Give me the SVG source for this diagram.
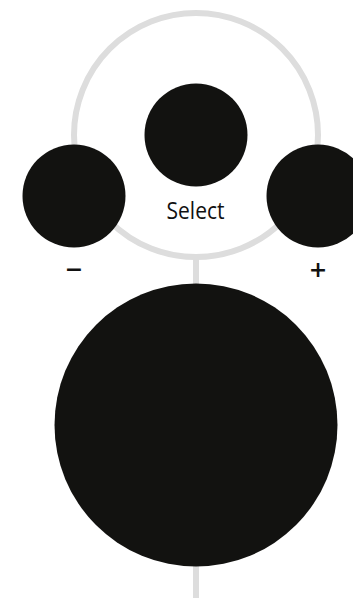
<svg xmlns="http://www.w3.org/2000/svg" width="353" height="598" viewBox="0 0 353 598">
  <style>
    .track { fill: none; stroke: #dddddd; stroke-width: 6; }
    .btn { fill: #121210; }
    .lbl { font-family: "Open Sans", "Liberation Sans", sans-serif; fill: #111111; text-anchor: middle; }
    .sign { font-size: 29px; font-weight: 600; }
  </style>
  <rect width="353" height="598" fill="#ffffff"/>
  <g id="connectors">
    <circle class="track" cx="196" cy="135" r="122"/>
    <line class="track" x1="196" y1="256" x2="196" y2="598"/>
  </g>
  <g id="select-button">
    <circle class="btn" cx="196" cy="135" r="51.5"/>
    <text class="lbl" x="195.5" y="218.5" font-size="23" textLength="58" lengthAdjust="spacingAndGlyphs">Select</text>
  </g>
  <g id="minus-button">
    <circle class="btn" cx="74" cy="196" r="51.5"/>
    <text class="lbl sign" x="74" y="279.5">−</text>
  </g>
  <g id="plus-button">
    <circle class="btn" cx="318" cy="196" r="51.5"/>
    <text class="lbl sign" x="318" y="279.5">+</text>
  </g>
  <g id="main-button">
    <circle class="btn" cx="196" cy="425" r="141.5"/>
  </g>
</svg>
